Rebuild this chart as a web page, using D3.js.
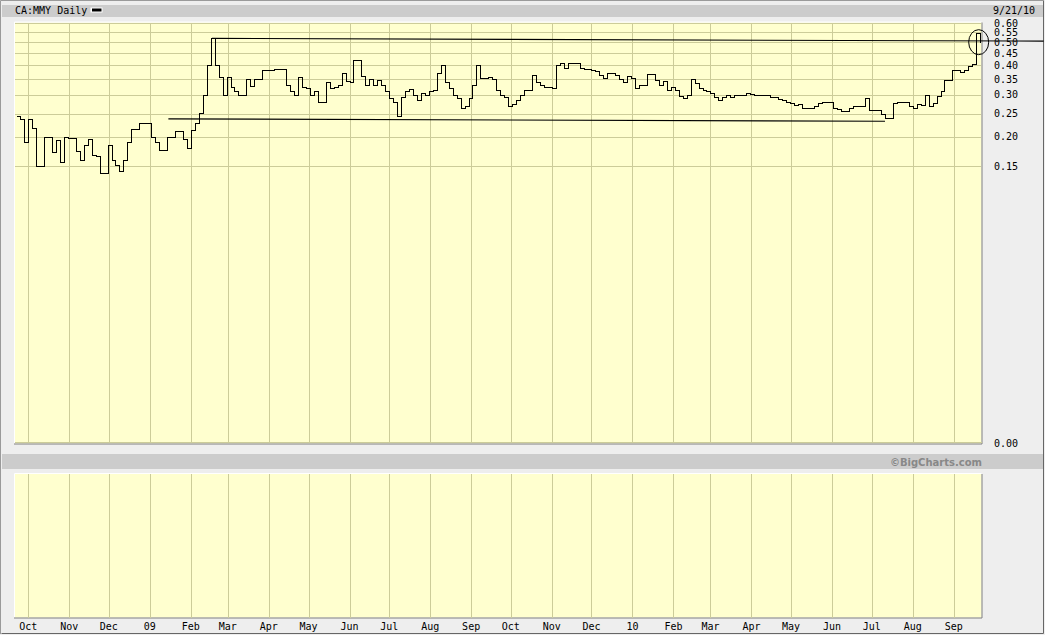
<!DOCTYPE html>
<html><head><meta charset="utf-8">
<script src="https://cdn.jsdelivr.net/npm/d3@7"></script>
<style>html,body{margin:0;padding:0;background:#eeeeee;} svg{display:block}</style>
</head><body>
<svg id="c" width="1045" height="635"></svg>
<script>
// ---------- data ----------
const title = "CA:MMY Daily";
const lastDateLabel = "9/21/10";
const copyright = "\u00A9BigCharts.com";
const startDate = "2008-09-22";   // first sampled session
const stepDays = 3;               // sampling interval of closes
const closes = [
 0.245,0.238,0.19,0.238,0.217,0.15,0.15,0.20,0.20,0.172,
 0.193,0.156,0.20,0.198,0.198,0.173,0.16,0.185,0.195,0.167,
 0.165,0.14,0.14,0.185,0.16,0.152,0.143,0.159,0.19,0.215,
 0.216,0.228,0.228,0.227,0.20,0.19,0.175,0.175,0.20,0.20,
 0.211,0.211,0.195,0.179,0.213,0.228,0.251,0.30,0.40,0.52,
 0.40,0.356,0.30,0.355,0.325,0.31,0.30,0.30,0.35,0.328,
 0.35,0.35,0.38,0.38,0.38,0.386,0.386,0.386,0.33,0.31,
 0.30,0.355,0.324,0.32,0.30,0.31,0.28,0.28,0.34,0.32,
 0.324,0.33,0.37,0.342,0.34,0.42,0.42,0.36,0.33,0.35,
 0.33,0.345,0.33,0.31,0.29,0.28,0.245,0.295,0.31,0.318,
 0.30,0.285,0.305,0.30,0.31,0.315,0.37,0.40,0.34,0.32,
 0.30,0.29,0.265,0.27,0.29,0.33,0.40,0.352,0.352,0.355,
 0.35,0.315,0.30,0.295,0.27,0.275,0.285,0.30,0.315,0.315,
 0.363,0.34,0.33,0.325,0.325,0.32,0.40,0.41,0.39,0.41,
 0.41,0.41,0.39,0.385,0.385,0.38,0.378,0.365,0.352,0.37,
 0.37,0.365,0.35,0.34,0.36,0.352,0.32,0.33,0.33,0.366,
 0.366,0.345,0.33,0.342,0.315,0.325,0.315,0.297,0.29,0.30,
 0.35,0.335,0.32,0.315,0.31,0.305,0.295,0.285,0.295,0.30,
 0.295,0.30,0.30,0.30,0.305,0.302,0.298,0.298,0.298,0.298,
 0.295,0.293,0.287,0.284,0.28,0.278,0.272,0.275,0.265,0.265,
 0.265,0.27,0.276,0.28,0.28,0.28,0.265,0.262,0.257,0.257,
 0.265,0.268,0.268,0.268,0.29,0.26,0.26,0.26,0.25,0.24,
 0.24,0.276,0.28,0.28,0.28,0.27,0.265,0.275,0.272,0.30,
 0.27,0.276,0.297,0.31,0.345,0.345,0.38,0.38,0.375,0.38,
 0.395,0.405,0.545,0.50
];
const priceTicks = [0.60,0.55,0.50,0.45,0.40,0.35,0.30,0.25,0.20,0.15];
const priceTickLabels = ["0.60","0.55","0.50","0.45","0.40","0.35","0.30","0.25","0.20","0.15"];
const bottomLabel = "0.00";
const monthTickDates = ["2008-10-01","2008-11-01","2008-12-01","2009-01-01","2009-02-01","2009-03-01",
 "2009-04-01","2009-05-01","2009-06-01","2009-07-01","2009-08-01","2009-09-01","2009-10-01",
 "2009-11-01","2009-12-01","2010-01-01","2010-02-01","2010-03-01","2010-04-01","2010-05-01",
 "2010-06-01","2010-07-01","2010-08-01","2010-09-01"];
const monthTickLabels = ["Oct","Nov","Dec","09","Feb","Mar","Apr","May","Jun","Jul","Aug","Sep","Oct",
 "Nov","Dec","10","Feb","Mar","Apr","May","Jun","Jul","Aug","Sep"];
const resistanceDates = ["2009-02-17","2010-11-08"];
const resistancePrices = [0.519,0.505];
const supportDates = ["2009-01-15","2010-07-11"];
const supportPrices = [0.2375,0.232];
const highlightDate = "2010-09-21";
const highlightPrice = 0.50;

// ---------- layout ----------
const W = 1045, H = 635;
const P = {left:15, right:981.5, top:22.5, bottom:443.5};
const L = {top:474, bottom:617.5};
const parse = d3.utcParse("%Y-%m-%d");
const x = d3.scaleUtc().domain([parse("2008-09-21"), parse("2010-09-22")]).range([P.left, P.right]);
const y = d3.scaleLog().domain([0.0102, 0.6]).range([443, 23.4]);
const mono = "'DejaVu Sans Mono', 'Liberation Mono', monospace";

const svg = d3.select("#c");
svg.append("rect").attr("width",W).attr("height",H).attr("fill","#eeeeee");
// outer border
svg.append("path").attr("d",`M0.5,${H-1}V0.5H${W-1}`).attr("stroke","#9a9a9a").attr("fill","none");
svg.append("path").attr("d",`M1.5,${H-1.5}H${W-1.5}V1`).attr("stroke","#666").attr("fill","none");

// header band
svg.append("rect").attr("x",2).attr("y",5).attr("width",W-4).attr("height",12).attr("fill","#cccccc");
svg.append("text").attr("x",15).attr("y",14).attr("font-family",mono).attr("font-size",10).attr("fill","#000").text(title);
svg.append("rect").attr("x",90.5).attr("y",7.5).attr("width",12).attr("height",5).attr("fill","#fff");
svg.append("rect").attr("x",92).attr("y",8.5).attr("width",9.5).attr("height",3).attr("fill","#000");
svg.append("text").attr("x",993).attr("y",13.5).attr("font-family",mono).attr("font-size",10).attr("fill","#000").text(lastDateLabel);

// copyright band
svg.append("rect").attr("x",2).attr("y",454).attr("width",W-4).attr("height",15).attr("fill","#cccccc");
svg.append("text").attr("x",982).attr("y",465.5).attr("text-anchor","end")
  .attr("font-family","'DejaVu Sans', Verdana, sans-serif").attr("font-weight","bold").attr("font-size",10)
  .attr("fill","#888").text(copyright);

// panels
function panel(top, bottom){
  svg.append("rect").attr("x",P.left).attr("y",top).attr("width",P.right-P.left).attr("height",bottom-top).attr("fill","#ffffcf");
  svg.append("path").attr("d",`M${P.left-0.5},${bottom}V${top-0.5}H${P.right}`).attr("stroke","#ffffff").attr("fill","none");
  svg.append("path").attr("d",`M${P.left-1},${bottom+0.5}H${P.right+0.5}V${top}`).attr("stroke","#808080").attr("fill","none").attr("stroke-width",1);
}
panel(P.top, P.bottom);
panel(L.top, L.bottom);

const gridC = "#cccc99";
const monthDates = monthTickDates.map(parse);
const gx = d => Math.round(x(d)) + 0.5;
const g = svg.append("g").attr("shape-rendering","crispEdges");
// vertical grid (both panels)
g.selectAll(".vg1").data(monthDates).join("line")
  .attr("x1",gx).attr("x2",gx).attr("y1",P.top).attr("y2",P.bottom-0.5).attr("stroke",gridC);
g.selectAll(".vg2").data(monthDates).join("line").attr("class","vg2")
  .attr("x1",gx).attr("x2",gx).attr("y1",L.top).attr("y2",L.bottom).attr("stroke",gridC);
// horizontal grid
g.selectAll(".hg").data(priceTicks).join("line").attr("class","hg")
  .attr("x1",P.left).attr("x2",P.right-0.5)
  .attr("y1",d=>Math.round(y(d))+0.5).attr("y2",d=>Math.round(y(d))+0.5).attr("stroke",gridC);
// bottom olive edge
g.append("line").attr("x1",P.left).attr("x2",P.right).attr("y1",P.bottom-1).attr("y2",P.bottom-1).attr("stroke",gridC);

// y labels
svg.selectAll(".yl").data(priceTicks).join("text").attr("class","yl")
  .attr("x",994).attr("y",d=>y(d)+3.6).attr("font-family",mono).attr("font-size",10).attr("fill","#000")
  .text((d,i)=>priceTickLabels[i]);
svg.append("text").attr("x",994).attr("y",y.domain()[0]+0).attr("font-family",mono).attr("font-size",10)
  .attr("y",y(y.domain()[0])+3.6).attr("fill","#000").text(bottomLabel);

// month labels
svg.selectAll(".ml").data(monthDates).join("text").attr("class","ml")
  .attr("x",d=>x(d)).attr("y",630).attr("text-anchor","middle").attr("font-family",mono).attr("font-size",10)
  .attr("fill","#000").text((d,i)=>monthTickLabels[i]);

// trend lines
const tl = d3.line().x(d=>x(d[0])).y(d=>y(d[1]));
svg.append("path").attr("d",tl(resistanceDates.map((d,i)=>[parse(d),resistancePrices[i]])))
  .attr("stroke","#000").attr("stroke-width",1.1).attr("fill","none");
svg.append("path").attr("d",tl(supportDates.map((d,i)=>[parse(d),supportPrices[i]])))
  .attr("stroke","#000").attr("stroke-width",1.1).attr("fill","none");

// price series
const t0 = parse(startDate);
const series = closes.map((v,i)=>({date:d3.utcDay.offset(t0, i*stepDays), close:v}));
const line = d3.line().curve(d3.curveStepAfter)
  .x(d=>Math.round(x(d.date))+0.5).y(d=>Math.round(y(d.close))+0.5);
svg.append("path").datum(series).attr("d",line).attr("fill","none").attr("stroke","#000")
  .attr("stroke-width",1).attr("shape-rendering","crispEdges");

// highlight ellipse
svg.append("ellipse").attr("cx",x(parse(highlightDate))-1.5).attr("cy",y(highlightPrice))
  .attr("rx",10).attr("ry",12.5).attr("fill","none").attr("stroke","#000").attr("stroke-width",1);
</script>
</body></html>
